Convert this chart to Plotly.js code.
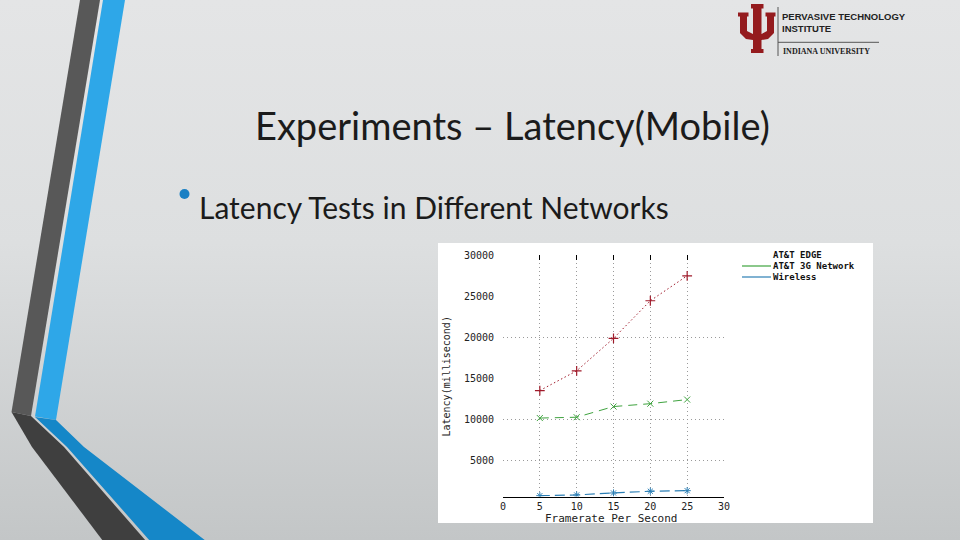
<!DOCTYPE html>
<html>
<head>
<meta charset="utf-8">
<script src="https://cdn.plot.ly/plotly-3.0.1.min.js"></script>
<style>
html,body{margin:0;padding:0;width:960px;height:540px;overflow:hidden;}
body{background:linear-gradient(to bottom,#e4e5e6 0%,#dddfe0 45%,#c3c6c7 100%);}
#chart{width:960px;height:540px;}
</style>
</head>
<body>
<div id="chart"></div>
<script>
// ---- data ----
const frameRates = [5, 10, 15, 20, 25];
const edgeLatency = [13500, 15900, 19850, 24430, 27470];
const g3Latency = [10150, 10250, 11550, 11900, 12400];
const wirelessLatency = [700, 790, 1030, 1240, 1310];
const seriesNames = ['AT&T EDGE', 'AT&T 3G Network', 'Wireless'];
const xTicks = [0, 5, 10, 15, 20, 25, 30];
const yTicks = [5000, 10000, 15000, 20000, 25000, 30000];
const xGrid = [5, 10, 15, 20, 25];
const yGrid = [5000, 10000, 20000];
const xTitle = 'Framerate Per Second';
const yTitle = 'Latency(millisecond)';
const slideTitle = 'Experiments – Latency(Mobile)';
const bulletText = 'Latency Tests in Different Networks';

// ---- helpers for decoration (pixel -> paper) ----
const W = 960, H = 540;
const px = (x) => x / W;
const py = (y) => 1 - y / H;
function poly(pts) {
  return 'M' + pts.map(p => px(p[0]).toFixed(5) + ',' + py(p[1]).toFixed(5)).join('L') + 'Z';
}

const mono = 'DejaVu Sans Mono, Liberation Mono, monospace';
const redC = '#a01a2a', greenC = '#3fa33f', blueC = '#2c7fb5';
const gridC = '#9a9a9a';

const traces = [
  {x: frameRates, y: edgeLatency, name: seriesNames[0], type: 'scatter', mode: 'lines+markers',
   line: {color: redC, width: 1, dash: '1.5px,2.5px'},
   marker: {symbol: 'cross-thin-open', size: 7, color: redC, line: {color: redC, width: 1.2}}},
  {x: frameRates, y: g3Latency, name: seriesNames[1], type: 'scatter', mode: 'lines+markers',
   line: {color: greenC, width: 1, dash: '9px,6px'},
   marker: {symbol: 'x-thin-open', size: 6, color: greenC, line: {color: greenC, width: 1}}},
  {x: frameRates, y: wirelessLatency, name: seriesNames[2], type: 'scatter', mode: 'lines+markers',
   line: {color: blueC, width: 1.2, dash: '10px,5px'},
   marker: {symbol: 'asterisk-open', size: 6, color: blueC, line: {color: blueC, width: 1}}},
  {x: frameRates, y: wirelessLatency, xaxis: 'x2', yaxis: 'y2', mode: 'none', showlegend: false, hoverinfo: 'skip'}
];

const xDom = [px(503), px(724)];
const yDom = [py(496.5), py(255)];
const yRange = [600, 30000];

// legend rows (pixel y of each entry)
const legRows = [255, 266, 277];

const shapes = [
  // white chart image background
  {type: 'rect', xref: 'paper', yref: 'paper', x0: px(438), x1: px(873), y0: py(523), y1: py(243),
   fillcolor: '#ffffff', line: {width: 0}, layer: 'below'},
  // left decorative stripes
  {type: 'path', xref: 'paper', yref: 'paper', path: poly([[80,0],[100,0],[31,416],[11.5,412]]),
   fillcolor: '#585858', line: {width: 0}, layer: 'below'},
  {type: 'path', xref: 'paper', yref: 'paper', path: poly([[103,0],[125,0],[56,420],[35,416.5]]),
   fillcolor: '#2ea7e8', line: {width: 0}, layer: 'below'},
  {type: 'path', xref: 'paper', yref: 'paper', path: poly([[11.5,412],[31,416],[64,447],[146,541],[103,541],[32,447]]),
   fillcolor: '#3f3f3f', line: {width: 0}, layer: 'below'},
  {type: 'path', xref: 'paper', yref: 'paper', path: poly([[35,417],[56,420],[84,447],[206,541],[150,541],[67,447]]),
   fillcolor: '#1587c8', line: {width: 0}, layer: 'below'},
  // bullet dot
  {type: 'circle', xref: 'paper', yref: 'paper', x0: px(179.5), x1: px(189.5), y0: py(199), y1: py(189),
   fillcolor: '#1a80c4', line: {width: 0}},
  // legend sample lines
  {type: 'line', xref: 'paper', yref: 'paper', x0: px(742), x1: px(771), y0: py(legRows[1]), y1: py(legRows[1]),
   line: {color: greenC, width: 1.2}},
  {type: 'line', xref: 'paper', yref: 'paper', x0: px(742), x1: px(771), y0: py(legRows[2]), y1: py(legRows[2]),
   line: {color: blueC, width: 1.2}},
  // IU logo trident
  {type: 'path', xref: 'paper', yref: 'paper',
   path: poly([[738,12.5],[748.5,12.5],[748.5,16.5],[747,16.5],[747,31],[753,34],[753,8.5],[751,8.5],[751,4],[763.5,4],[763.5,8.5],[761.5,8.5],[761.5,34],[767,31],[767,16.5],[765.5,16.5],[765.5,12.5],[775.5,12.5],[775.5,16.5],[774,16.5],[774,33],[768,39],[761.5,40],[761.5,49],[763.5,49],[763.5,53],[751,53],[751,49],[753,49],[753,40],[746,39],[740,33],[740,16.5],[738,16.5]]),
   fillcolor: '#941b1e', line: {width: 0}},
  {type: 'line', xref: 'paper', yref: 'paper', x0: px(778), x1: px(778), y0: py(7), y1: py(56),
   line: {color: '#555', width: 1}},
  {type: 'line', xref: 'paper', yref: 'paper', x0: px(778), x1: px(879), y0: py(42.3), y1: py(42.3),
   line: {color: '#555', width: 1}}
];

function label(text, x, y, font, extra) {
  return Object.assign({text: text, xref: 'paper', yref: 'paper', x: px(x), y: py(y),
    xanchor: 'left', yanchor: 'middle', showarrow: false, font: font}, extra || {});
}
const legFont = {family: mono, size: 9, color: '#111'};
const logoFont = {family: 'Liberation Sans, Arial, sans-serif', size: 9.5, color: '#222'};

const annotations = [
  label(slideTitle, 512, 125, {family: 'Lato, Open Sans, sans-serif', size: 38, color: '#1b1b1b'}, {xanchor: 'center'}),
  label(bulletText, 197, 207, {family: 'Lato, Open Sans, sans-serif', size: 30, color: '#1b1b1b'}),
  label(yTitle, 446, 376.5, {family: mono, size: 10, color: '#222'}, {xanchor: 'center', textangle: -90}),
  label(xTitle, 611, 518, {family: mono, size: 11, color: '#222'}, {xanchor: 'center'}),
  // custom legend text
  label('<b>' + seriesNames[0] + '</b>', 772, legRows[0], legFont, {borderpad: 0}),
  label('<b>' + seriesNames[1] + '</b>', 772, legRows[1], legFont, {borderpad: 0}),
  label('<b>' + seriesNames[2] + '</b>', 772, legRows[2], legFont, {borderpad: 0}),
  // logo text
  label('<b>PERVASIVE TECHNOLOGY</b>', 781, 16.5, logoFont, {borderpad: 0}),
  label('<b>INSTITUTE</b>', 781, 28.5, logoFont, {borderpad: 0}),
  label('<b>INDIANA UNIVERSITY</b>', 781, 51.7, {family: 'Liberation Serif, DejaVu Serif, serif', size: 8, color: '#222'})
];

const layout = {
  width: W, height: H,
  margin: {l: 0, r: 0, t: 0, b: 0},
  paper_bgcolor: 'rgba(0,0,0,0)',
  plot_bgcolor: 'rgba(0,0,0,0)',
  showlegend: false,
  xaxis: {domain: xDom, range: [0, 30], tickvals: xTicks, ticktext: xTicks.map(String),
          showgrid: false, zeroline: false, showline: true, linecolor: '#000', linewidth: 1.5,
          ticks: '', tickfont: {family: mono, size: 10, color: '#222'}, anchor: 'y', fixedrange: true},
  yaxis: {domain: yDom, range: yRange, tickvals: yTicks, ticktext: yTicks.map(String),
          showgrid: false, zeroline: false, showline: false, ticks: '', ticklabelstandoff: 8,
          tickfont: {family: mono, size: 10, color: '#222'}, anchor: 'x', fixedrange: true},
  xaxis2: {domain: xDom, range: [0, 30], overlaying: 'x', anchor: 'y2', side: 'top', tickvals: xGrid,
           showticklabels: false, showgrid: true, gridcolor: gridC, griddash: '1px,3px', gridwidth: 1,
           zeroline: false, showline: false, ticks: 'inside', ticklen: 5, tickcolor: '#000', tickwidth: 1.2},
  yaxis2: {domain: yDom, range: yRange, overlaying: 'y', anchor: 'x2', tickvals: yGrid,
           showticklabels: false, showgrid: true, gridcolor: gridC, griddash: '1px,3px', gridwidth: 1,
           zeroline: false, showline: false, ticks: ''},
  shapes: shapes,
  annotations: annotations
};

Plotly.newPlot('chart', traces, layout, {displayModeBar: false, staticPlot: true});
</script>
</body>
</html>
